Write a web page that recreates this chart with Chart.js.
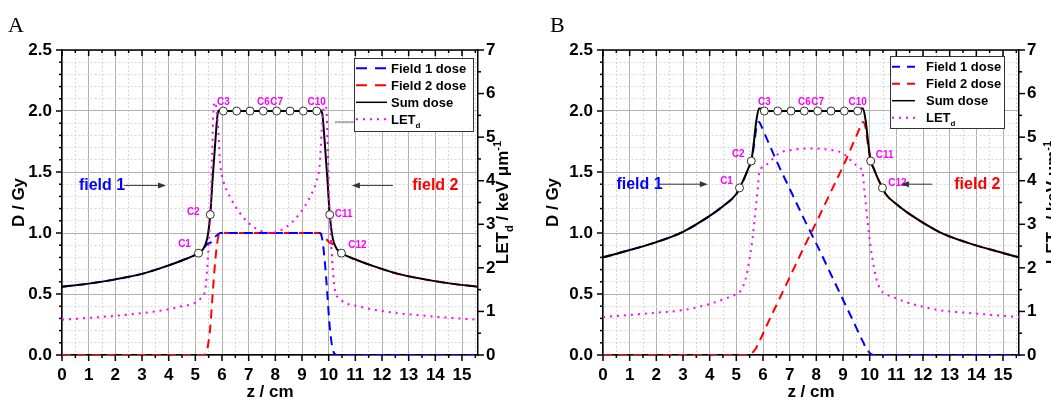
<!DOCTYPE html>
<html>
<head>
<meta charset="utf-8">
<script src="https://cdn.jsdelivr.net/npm/chart.js@4"></script>
<style>
  html, body { margin: 0; padding: 0; background: #fff; }
  #wrap { position: relative; width: 1051px; height: 403px; overflow: hidden; }
  .panel { position: absolute; top: 0; height: 403px; }
  #panelA { left: 0; width: 530px; }
  #panelB { left: 530px; width: 521px; }
</style>
</head>
<body>
<div id="wrap">
  <div class="panel" id="panelA"><canvas id="chartA" width="530" height="403"></canvas></div>
  <div class="panel" id="panelB"><canvas id="chartB" width="521" height="403"></canvas></div>
</div>
<script>
// ---- tick labels ----
const xTickLabels = ['0','1','2','3','4','5','6','7','8','9','10','11','12','13','14','15'];
const doseTickLabels = ['0.0','0.5','1.0','1.5','2.0','2.5'];
const letTickLabels = ['0','1','2','3','4','5','6','7'];

// ---- panel A: dose (Gy) along z (cm) ----
const zDoseA = [0,1,2,3,4,4.5,5,5.12,5.3,5.45,5.56,5.65,5.75,5.85,5.95,6.05,6.55,7.05,7.55,8.05,8.55,9.05,9.55,9.65,9.75,9.85,9.95,10.04,10.15,10.3,10.48,10.6,11.1,11.6,12.6,13.6,14.6,15.6];
const sumA = [0.56,0.585,0.62,0.665,0.735,0.775,0.82,0.835,0.87,0.96,1.15,1.45,1.75,1.99,2.01,2,2,2,2,2,2,2,2,2.01,1.99,1.75,1.45,1.15,0.96,0.87,0.835,0.82,0.775,0.735,0.665,0.62,0.585,0.56];
const field1A = [0.56,0.585,0.62,0.665,0.735,0.775,0.82,0.835,0.87,0.91,0.92,0.94,0.97,0.99,1,1,1,1,1,1,1,1,1,1,0.96,0.78,0.5,0.23,0.05,0,0,0,0,0,0,0,0,0];
const field2A = [0,0,0,0,0,0,0,0,0,0.05,0.23,0.5,0.78,0.96,1,1,1,1,1,1,1,1,1,1,0.99,0.97,0.94,0.92,0.91,0.87,0.835,0.82,0.775,0.735,0.665,0.62,0.585,0.56];
// LETd (keV/um)
const zLetA = [0,1,2,3,4,4.5,5,5.2,5.37,5.5,5.56,5.62,5.68,5.75,5.8,5.86,5.93,6.05,6.3,6.68,7.18,7.8,8.42,8.92,9.3,9.55,9.67,9.74,9.8,9.85,9.92,9.98,10.04,10.1,10.23,10.4,10.6,11.1,11.6,12.6,13.6,14.6,15.6];
const letA = [0.81,0.85,0.9,0.96,1.05,1.12,1.2,1.3,1.5,2.5,3.25,4.4,5.6,5.8,5.6,5.16,4.4,4.0,3.63,3.25,2.94,2.8,2.94,3.25,3.63,4.0,4.4,5.16,5.6,5.8,5.6,4.4,3.25,2.5,1.5,1.3,1.2,1.12,1.05,0.96,0.9,0.85,0.81];

// ---- panel B ----
const zDoseB = [0,1,2,3,4,4.5,5,5.12,5.3,5.45,5.56,5.65,5.75,5.85,5.95,6.05,6.55,7.05,7.55,8.05,8.55,9.05,9.55,9.65,9.75,9.85,9.95,10.04,10.15,10.3,10.48,10.6,11.1,11.6,12.6,13.6,14.6,15.6];
const sumB = [0.8,0.86,0.925,1.01,1.14,1.22,1.32,1.37,1.45,1.53,1.59,1.73,1.92,2.02,2.02,2,2,2,2,2,2,2,2,2.02,2.02,1.92,1.73,1.59,1.53,1.45,1.37,1.32,1.22,1.14,1.01,0.925,0.86,0.8];
const field1B = [0.8,0.86,0.925,1.01,1.14,1.22,1.32,1.37,1.45,1.53,1.59,1.7,1.86,1.91,1.87,1.82,1.57,1.34,1.11,0.89,0.66,0.43,0.2,0.15,0.11,0.06,0.03,0.01,0,0,0,0,0,0,0,0,0,0];
const field2B = [0,0,0,0,0,0,0,0,0,0,0.01,0.03,0.06,0.11,0.15,0.2,0.43,0.66,0.89,1.11,1.34,1.57,1.82,1.87,1.91,1.86,1.7,1.59,1.53,1.45,1.37,1.32,1.22,1.14,1.01,0.925,0.86,0.8];
const zLetB = [0,1,2,3,4,4.61,5,5.18,5.35,5.49,5.58,5.67,5.75,5.8,5.86,6.11,6.61,7.24,7.8,8.36,8.99,9.49,9.74,9.8,9.85,9.93,10.02,10.11,10.25,10.42,10.6,10.99,11.6,12.6,13.6,14.6,15.6];
const letB = [0.87,0.92,0.97,1.03,1.17,1.3,1.4,1.49,1.75,2.18,2.55,3.02,3.5,3.78,4.17,4.36,4.63,4.72,4.74,4.72,4.63,4.36,4.17,3.78,3.5,3.02,2.55,2.18,1.75,1.49,1.4,1.3,1.17,1.03,0.97,0.92,0.87];

// ---- check points C1..C12 ----
const cLabels = ['C1','C2','C3','','','C6','C7','','','C10','C11','C12'];
const cZ = [5.12,5.56,6.05,6.55,7.05,7.55,8.05,8.55,9.05,9.55,10.04,10.48];
const cDoseA = [0.835,1.15,2,2,2,2,2,2,2,2,1.15,0.835];
const cDoseB = [1.37,1.59,2,2,2,2,2,2,2,2,1.59,1.37];

Chart.defaults.font.family = '"Liberation Sans", Arial, sans-serif';
Chart.defaults.color = '#000';

const FONT = '"Liberation Sans", Arial, sans-serif';
const TICK_FONT = { size: 17, weight: 'bold' };
const TITLE_FONT = { size: 17, weight: 'bold' };
const MAJOR = '#b0b0b0', MINOR = '#d6d6d6';
const isInt = v => Math.abs(v - Math.round(v)) < 1e-6;
const isHalf = v => isInt(v * 2);

function pts(xs, ys) {
  return xs.map((x, i) => ({ x: x, y: ys[i] }));
}

// order: lower number is drawn on top
function makeDatasets(zDose, sum, f1, f2, zLet, let_, cDose) {
  return [
    { label: 'Field 1 dose', data: pts(zDose, f1), borderColor: '#0000ff', borderDash: [9, 6], borderWidth: 2,
      pointRadius: 0, cubicInterpolationMode: 'monotone', yAxisID: 'y', order: 3 },
    { label: 'Field 2 dose', data: pts(zDose, f2), borderColor: '#ff0000', borderDash: [9, 6], borderWidth: 2,
      pointRadius: 0, cubicInterpolationMode: 'monotone', yAxisID: 'y', order: 4 },
    { label: 'Sum dose', data: pts(zDose, sum), borderColor: '#000000', borderWidth: 2,
      pointRadius: 0, cubicInterpolationMode: 'monotone', yAxisID: 'y', order: 2 },
    { label: 'LETd', data: pts(zLet, let_), borderColor: '#ff00ff', borderDash: [2, 5], borderWidth: 2,
      pointRadius: 0, cubicInterpolationMode: 'monotone', yAxisID: 'y1', order: 1 },
    { label: 'points', data: pts(cZ, cDose), showLine: false, pointRadius: 4, pointBackgroundColor: '#ffffff',
      pointBorderColor: '#333333', pointBorderWidth: 1, yAxisID: 'y', order: 0 }
  ];
}

function makeScales(p) {
  const minorDash = test => c => (c.tick && !test(c.tick.value)) ? [2, 2] : [];
  const gridColor = test => c => (c.tick && !test(c.tick.value)) ? MINOR : MAJOR;
  return {
    x: {
      type: 'linear', position: 'bottom', min: 0, max: 15.6,
      afterFit(s) { s.height = 48; },
      ticks: { stepSize: 0.5, maxTicksLimit: 1000, includeBounds: false, autoSkip: false, maxRotation: 0, minRotation: 0,
        padding: 10, font: TICK_FONT, color: '#000',
        callback: v => isInt(v) ? xTickLabels[Math.round(v)] : '' },
      grid: { drawTicks: false, color: gridColor(isInt), lineWidth: 1 },
      border: { color: '#000', width: 1.5, dash: minorDash(isInt) },
      title: { display: true, text: 'z / cm', font: TITLE_FONT, color: '#000', padding: { top: 0, bottom: 0 } }
    },
    y: {
      type: 'linear', position: 'left', min: 0, max: 2.5,
      afterFit(s) { s.width = p.leftW; },
      ticks: { stepSize: 0.1, maxTicksLimit: 1000, includeBounds: false, autoSkip: false, padding: 10,
        font: TICK_FONT, color: '#000',
        callback: v => isHalf(v) ? doseTickLabels[Math.round(v * 2)] : '' },
      grid: { drawTicks: false, color: gridColor(isHalf), lineWidth: 1 },
      border: { color: '#000', width: 1.5, dash: minorDash(isHalf) },
      title: { display: true, text: 'D / Gy', font: TITLE_FONT, color: '#000', padding: { top: p.yTitlePad, bottom: 0 } }
    },
    y1: {
      type: 'linear', position: 'right', min: 0, max: 7,
      afterFit(s) { s.width = p.rightW; },
      ticks: { stepSize: 0.5, maxTicksLimit: 1000, includeBounds: false, autoSkip: false, padding: 8,
        font: TICK_FONT, color: '#000',
        callback: v => isInt(v) ? letTickLabels[Math.round(v)] : '' },
      grid: { drawOnChartArea: false, drawTicks: false },
      border: { color: '#000', width: 1.5 }
    }
  };
}

function seg(ctx, x1, y1, x2, y2) {
  ctx.beginPath(); ctx.moveTo(x1, y1); ctx.lineTo(x2, y2); ctx.stroke();
}

// text with sub/superscripts
function drawRich(ctx, parts, size, x, cy, align) {
  const fonts = parts.map(p => 'bold ' + (p.s ? Math.round(size * 0.65) : size) + 'px ' + FONT);
  let w = 0;
  parts.forEach((p, i) => { ctx.font = fonts[i]; w += ctx.measureText(p.t).width; });
  let xx = align === 'center' ? x - w / 2 : x;
  const base = cy + size * 0.36;
  ctx.textAlign = 'left';
  ctx.textBaseline = 'alphabetic';
  parts.forEach((p, i) => {
    ctx.font = fonts[i];
    const dy = p.s === 'sub' ? size * 0.28 : (p.s === 'sup' ? -size * 0.42 : 0);
    ctx.fillText(p.t, xx, base + dy);
    xx += ctx.measureText(p.t).width;
  });
}

function makeDecor(cfg) {
  return {
    id: 'decor' + cfg.panel,
    afterDatasetsDraw(chart) {
      const { ctx, chartArea: a, scales: { x, y, y1 } } = chart;
      ctx.save();

      // frame + tick marks
      ctx.strokeStyle = '#000';
      ctx.lineWidth = 1.5;
      seg(ctx, a.left, a.top, a.right, a.top);
      x.ticks.forEach(t => {
        const px = x.getPixelForValue(t.value), L = isInt(t.value) ? 6 : 3;
        seg(ctx, px, a.bottom, px, a.bottom + L);
        seg(ctx, px, a.top, px, a.top + L);
      });
      y.ticks.forEach(t => {
        const py = y.getPixelForValue(t.value), L = isHalf(t.value) ? 6 : 3;
        seg(ctx, a.left - L, py, a.left, py);
      });
      y1.ticks.forEach(t => {
        const py = y1.getPixelForValue(t.value), L = isInt(t.value) ? 6 : 3;
        seg(ctx, a.right, py, a.right + L, py);
      });

      // check point labels
      ctx.fillStyle = '#ff00ff';
      ctx.font = 'bold 10px ' + FONT;
      ctx.textAlign = 'center';
      ctx.textBaseline = 'middle';
      const cDose = cfg.cDose;
      cLabels.forEach((s, i) => {
        if (!s) return;
        const off = cfg.labelOffsets[i];
        ctx.fillText(s, x.getPixelForValue(cZ[i]) + off[0], y.getPixelForValue(cDose[i]) + off[1]);
      });

      // field annotations and arrows
      cfg.fields.forEach(f => {
        const py = y.getPixelForValue(f.y);
        ctx.fillStyle = f.color;
        ctx.font = 'bold 16px ' + FONT;
        ctx.textAlign = 'center';
        ctx.textBaseline = 'middle';
        ctx.fillText(f.text, x.getPixelForValue(f.x), py);
        const x1 = x.getPixelForValue(f.from), x2 = x.getPixelForValue(f.to);
        const dir = Math.sign(x2 - x1);
        ctx.strokeStyle = '#333';
        ctx.lineWidth = 1;
        seg(ctx, x1, py, x2 - dir * 6, py);
        ctx.fillStyle = '#333';
        ctx.beginPath();
        ctx.moveTo(x2, py);
        ctx.lineTo(x2 - dir * 8, py - 3);
        ctx.lineTo(x2 - dir * 8, py + 3);
        ctx.closePath();
        ctx.fill();
      });

      // legend box
      const L = cfg.legend;
      if (L.leader) {
        ctx.strokeStyle = '#666';
        ctx.lineWidth = 1;
        seg(ctx, L.leader[0], L.leader[1], L.x, L.leader[1]);
      }
      ctx.fillStyle = '#fff';
      ctx.fillRect(L.x, L.y, L.w, L.h);
      ctx.strokeStyle = '#333';
      ctx.lineWidth = 1;
      ctx.strokeRect(L.x + 0.5, L.y + 0.5, L.w, L.h);
      const items = [
        { color: '#0000ff', dash: L.dash, w: 2, parts: [{ t: 'Field 1 dose' }] },
        { color: '#ff0000', dash: L.dash, w: 2, parts: [{ t: 'Field 2 dose' }] },
        { color: '#000000', dash: [], w: 1.5, parts: [{ t: 'Sum dose' }] },
        { color: '#ff00ff', dash: L.dot, w: 2, parts: [{ t: 'LET' }, { t: 'd', s: 'sub' }] }
      ];
      items.forEach((it, i) => {
        const ry = L.y + L.first + i * L.step;
        ctx.save();
        ctx.strokeStyle = it.color;
        ctx.lineWidth = it.w;
        ctx.setLineDash(it.dash);
        seg(ctx, L.x + L.s0, ry, L.x + L.s1, ry);
        ctx.restore();
        ctx.fillStyle = '#000';
        drawRich(ctx, it.parts, 13, L.x + L.tx, ry, 'left');
      });

      // right axis title (reads bottom to top)
      ctx.save();
      ctx.translate(cfg.letTitleX, (a.top + a.bottom) / 2);
      ctx.rotate(-Math.PI / 2);
      ctx.fillStyle = '#000';
      drawRich(ctx, [{ t: 'LET' }, { t: 'd', s: 'sub' }, { t: ' / keV \u03bcm' }, { t: '-1', s: 'sup' }], 17, 0, 0, 'center');
      ctx.restore();

      // panel letter
      ctx.fillStyle = '#000';
      ctx.font = '22px "Liberation Serif", "Times New Roman", serif';
      ctx.textAlign = 'left';
      ctx.textBaseline = 'alphabetic';
      ctx.fillText(cfg.panel, cfg.panelX, 32);

      ctx.restore();
    }
  };
}

const decorA = {
  panel: 'A', panelX: 8, letTitleX: 502, cDose: cDoseA,
  labelOffsets: [[-14, -9], [-17, -2], [0, -9], [0, 0], [0, 0], [0, -9], [0, -9], [0, 0], [0, 0], [0, -9], [14, 0], [16, -8]],
  fields: [
    { text: 'field 1', color: '#0000ff', x: 1.5, y: 1.39, from: 2.33, to: 3.9 },
    { text: 'field 2', color: '#ff0000', x: 14.0, y: 1.39, from: 12.41, to: 10.87 }
  ],
  legend: { x: 354, y: 58, w: 119, h: 73, first: 10.3, step: 17, s0: 2, s1: 33, tx: 37, dash: [11, 8], dot: [2, 5], leader: [335, 122] }
};

const decorB = {
  panel: 'B', panelX: 20, letTitleX: 522, cDose: cDoseB,
  labelOffsets: [[-13, -7], [-13, -7], [0, -9], [0, 0], [0, 0], [0, -9], [0, -9], [0, 0], [0, 0], [0, -9], [14, -6], [15, -5]],
  fields: [
    { text: 'field 1', color: '#0000ff', x: 1.37, y: 1.4, from: 2.12, to: 3.93 },
    { text: 'field 2', color: '#ff0000', x: 14.04, y: 1.4, from: 12.35, to: 11.17 }
  ],
  legend: { x: 360, y: 56, w: 114, h: 72, first: 10.7, step: 17, s0: 2, s1: 25, tx: 36, dash: [8, 7], dot: [2, 5], leader: null }
};

function makeChart(id, datasets, scaleOpts, decor) {
  return new Chart(document.getElementById(id), {
    type: 'line',
    data: { datasets: datasets },
    options: {
      responsive: false,
      animation: false,
      layout: { padding: { top: 50, left: 0, right: 0, bottom: 0 } },
      scales: makeScales(scaleOpts),
      plugins: { legend: { display: false }, tooltip: { enabled: false } }
    },
    plugins: [makeDecor(decor)]
  });
}

makeChart('chartA', makeDatasets(zDoseA, sumA, field1A, field2A, zLetA, letA, cDoseA),
  { leftW: 62, rightW: 52, yTitlePad: 9 }, decorA);
makeChart('chartB', makeDatasets(zDoseB, sumB, field1B, field2B, zLetB, letB, cDoseB),
  { leftW: 73, rightW: 32, yTitlePad: 13 }, decorB);
</script>
</body>
</html>
